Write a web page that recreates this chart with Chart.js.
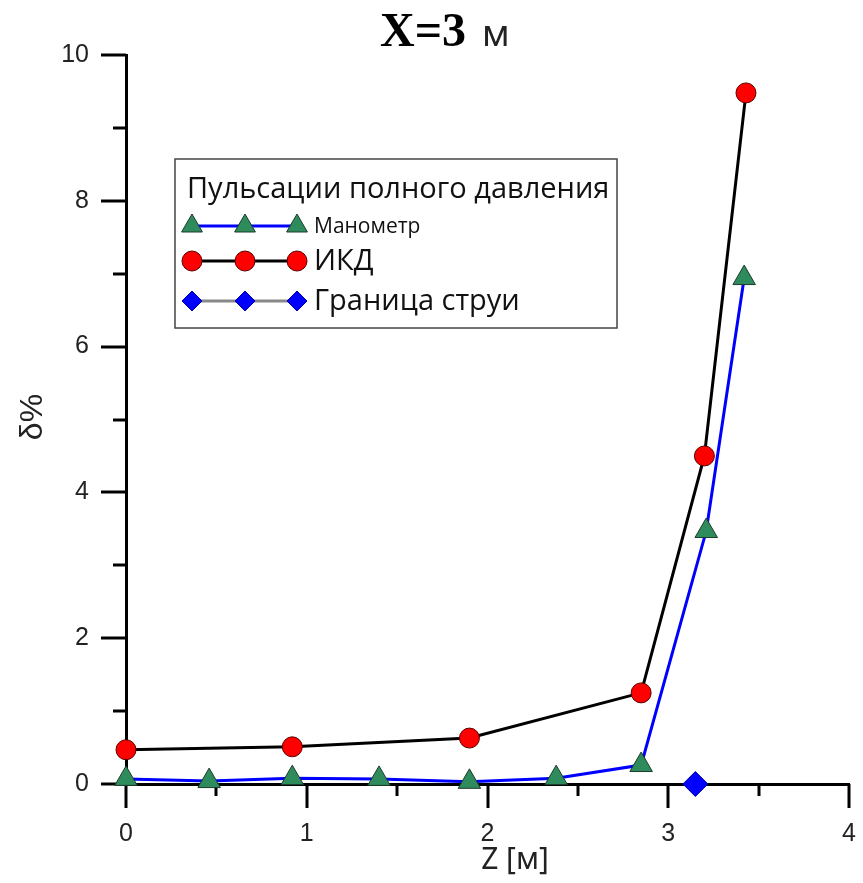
<!DOCTYPE html>
<html>
<head>
<meta charset="utf-8">
<title>X=3 м</title>
<script src="https://cdn.jsdelivr.net/npm/chart.js@4.4.1/dist/chart.umd.min.js"></script>
<style>
  html, body { margin: 0; padding: 0; background: #fff; }
  #wrap { width: 863px; height: 883px; }
</style>
</head>
<body>
<div id="wrap"><canvas id="chart" width="863" height="883"></canvas></div>
<script>
// Data
const zManometer = [0, 0.46, 0.92, 1.40, 1.90, 2.38, 2.85, 3.21, 3.42];
const dManometer = [0.07, 0.04, 0.08, 0.07, 0.03, 0.08, 0.26, 3.47, 6.94];

const zIkd = [0, 0.92, 1.90, 2.85, 3.20, 3.43];
const dIkd = [0.47, 0.51, 0.63, 1.25, 4.50, 9.48];

const zBoundary = [3.15];
const dBoundary = [0];

const xTickLabels = [0, 1, 2, 3, 4];
const yTickLabels = [0, 2, 4, 6, 8, 10];

const legendTitle = "Пульсации полного давления";
const seriesNames = ["Манометр", "ИКД", "Граница струи"];

function toPoints(xs, ys) {
  return xs.map((x, i) => ({ x: x, y: ys[i] }));
}

// -------------------------
// Plugins
// -------------------------
const tickMarks = {
  id: "tickMarks",
  beforeDatasetsDraw(chart) {
    const ctx = chart.ctx;
    const xs = chart.scales.x, ys = chart.scales.y;
    const area = chart.chartArea;
    ctx.save();
    ctx.strokeStyle = "#000";
    ctx.lineWidth = 3;
    ctx.lineCap = "butt";
    for (let v = 0; v <= 10; v++) {
      const py = Math.round(ys.getPixelForValue(v));
      const len = yTickLabels.includes(v) ? 25 : 13;
      ctx.beginPath();
      ctx.moveTo(area.left - len, py);
      ctx.lineTo(area.left, py);
      ctx.stroke();
    }
    for (let v = 0; v <= 4; v += 0.5) {
      const px = Math.round(xs.getPixelForValue(v));
      const len = xTickLabels.includes(v) ? 24 : 12;
      ctx.beginPath();
      ctx.moveTo(px, area.bottom);
      ctx.lineTo(px, area.bottom + len);
      ctx.stroke();
    }
    ctx.restore();
  },
};

const titles = {
  id: "titles",
  afterDraw(chart) {
    const ctx = chart.ctx;
    ctx.save();
    ctx.fillStyle = "#000";
    ctx.textBaseline = "alphabetic";
    ctx.textAlign = "left";
    // main title
    ctx.font = "bold 48px 'Liberation Serif', 'Times New Roman', serif";
    ctx.fillText("X=3", 380, 46);
    ctx.font = "36px 'Noto Sans', sans-serif";
    ctx.fillStyle = "#222";
    ctx.fillText("м", 482, 46);

    // x axis title
    ctx.textAlign = "center";
    ctx.textBaseline = "middle";
    ctx.font = "30px 'Noto Sans', sans-serif";
    ctx.fillText("Z [м]", 515, 860);

    // y axis title
    ctx.save();
    ctx.translate(33, 417);
    ctx.rotate(-Math.PI / 2);
    ctx.font = "32px 'Liberation Sans', sans-serif";
    ctx.fillText("δ%", 0, 0);
    ctx.restore();
    ctx.restore();
  },
};

const boxLegend = {
  id: "boxLegend",
  afterDraw(chart) {
    const ctx = chart.ctx;
    const box = { left: 175, top: 159, right: 617, bottom: 328 };
    ctx.save();
    ctx.fillStyle = "#fff";
    ctx.fillRect(box.left, box.top, box.right - box.left, box.bottom - box.top);
    ctx.strokeStyle = "#444";
    ctx.lineWidth = 1.5;
    ctx.strokeRect(box.left, box.top, box.right - box.left, box.bottom - box.top);

    ctx.fillStyle = "#111";
    ctx.textBaseline = "alphabetic";
    ctx.textAlign = "left";
    ctx.font = "29px 'Open Sans', 'Noto Sans', sans-serif";
    ctx.fillText(legendTitle, 187, 198);

    const rows = [226, 261, 301];
    const fonts = ["21px", "29px", "29px"];
    const markX = [192, 245, 297];
    chart.data.datasets.forEach((ds, i) => {
      const y = rows[i];
      ctx.strokeStyle = ds.legendLineColor || ds.borderColor;
      ctx.lineWidth = ds.borderWidth;
      ctx.beginPath();
      ctx.moveTo(markX[0], y);
      ctx.lineTo(markX[2], y);
      ctx.stroke();
      markX.forEach((mx) => {
        ctx.fillStyle = ds.pointBackgroundColor;
        ctx.strokeStyle = ds.pointBorderColor;
        ctx.lineWidth = ds.pointBorderWidth;
        Chart.helpers.drawPoint(ctx, {
          pointStyle: ds.pointStyle,
          radius: ds.legendRadius,
          rotation: 0,
          borderWidth: ds.pointBorderWidth,
        }, mx, y);
      });
      ctx.fillStyle = "#111";
      ctx.textBaseline = "middle";
      ctx.font = fonts[i] + " 'Open Sans', 'Noto Sans', sans-serif";
      ctx.fillText(seriesNames[i], 314, y + 1);
    });
    ctx.restore();
  },
};

// -------------------------
// Chart
// -------------------------
const tickFont = { family: "'Liberation Sans', Arial, sans-serif", size: 25 };

new Chart(document.getElementById("chart").getContext("2d"), {
  type: "line",
  data: {
    datasets: [
      {
        label: seriesNames[0],
        data: toPoints(zManometer, dManometer),
        borderColor: "#0000ff",
        borderWidth: 3,
        pointStyle: "triangle",
        pointRadius: 13,
        legendRadius: 12,
        pointBackgroundColor: "#2e8b5c",
        pointBorderColor: "#1d3b2b",
        pointBorderWidth: 1,
        clip: false,
        order: 2,
      },
      {
        label: seriesNames[1],
        data: toPoints(zIkd, dIkd),
        borderColor: "#000000",
        borderWidth: 3,
        pointStyle: "circle",
        pointRadius: 10,
        legendRadius: 10,
        pointBackgroundColor: "#ff0000",
        pointBorderColor: "#5a0000",
        pointBorderWidth: 1,
        clip: false,
        order: 1,
      },
      {
        label: seriesNames[2],
        data: toPoints(zBoundary, dBoundary),
        borderColor: "#888888",
        borderWidth: 3,
        pointStyle: "rectRot",
        pointRadius: 12.5,
        legendRadius: 10,
        pointBackgroundColor: "#0000ff",
        pointBorderColor: "#0000aa",
        pointBorderWidth: 1,
        clip: false,
        order: 0,
      },
    ],
  },
  options: {
    responsive: false,
    animation: false,
    layout: { padding: { top: 55, right: 7, bottom: 0, left: 0 } },
    plugins: { legend: { display: false }, tooltip: { enabled: false }, title: { display: false } },
    elements: { line: { tension: 0 } },
    scales: {
      x: {
        type: "linear",
        min: 0,
        max: 4,
        grid: { display: false, drawTicks: false },
        border: { display: true, color: "#000", width: 3 },
        ticks: {
          stepSize: 0.5,
          padding: 35,
          color: "#222",
          font: tickFont,
          callback: (v) => (xTickLabels.includes(v) ? String(v) : ""),
        },
        afterFit: (s) => {
          s.height = 99;
          s.paddingLeft = 0;
          s.paddingRight = 0;
        },
      },
      y: {
        type: "linear",
        min: 0,
        max: 10,
        grid: { display: false, drawTicks: false },
        border: { display: true, color: "#000", width: 3 },
        ticks: {
          stepSize: 1,
          padding: 37,
          color: "#222",
          font: tickFont,
          callback: (v) => (yTickLabels.includes(v) ? String(v) : ""),
        },
        afterFit: (s) => { s.width = 126; },
      },
    },
  },
  plugins: [tickMarks, boxLegend, titles],
});
</script>
</body>
</html>
